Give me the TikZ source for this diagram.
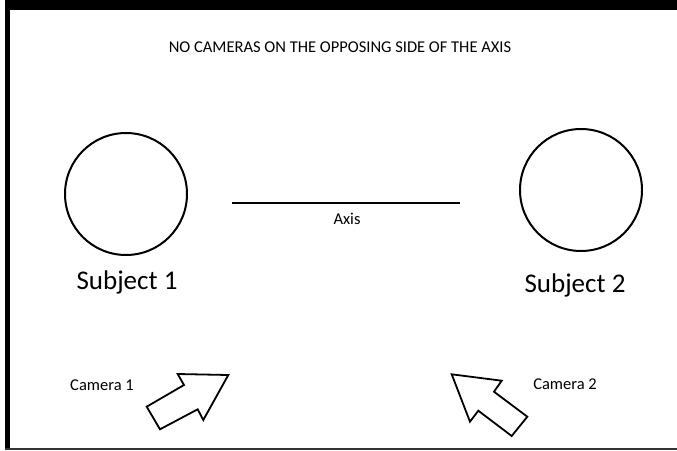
\documentclass[tikz,border=0pt]{standalone}
\usepackage{fontspec}
\setmainfont{Carlito}
\usepackage{tikz}

\begin{document}
\begin{tikzpicture}[x=1pt,y=-1pt,line join=miter,
  small/.style={font=\fontsize{16.5}{19}\selectfont},
  big/.style={font=\fontsize{27}{32}\selectfont},
  subject/.style={circle,draw,line width=2pt,minimum size=122pt,inner sep=0pt}]
\useasboundingbox (0,0) rectangle (677,450);
\fill[white] (0,0) rectangle (677,450);
% frame
\fill[black] (5,0) rectangle (677,10);
\fill[black] (5,0) rectangle (10,448);
\fill[black!80] (5,447.5) rectangle (677,450);
\node[small] (title) at (340,47) {NO CAMERAS ON THE OPPOSING SIDE OF THE AXIS};
% subjects and axis
\node[subject] (s1) at (126,194) {};
\node[subject] (s2) at (581,190) {};
\node[big] (s1label) at (127,282) {Subject 1};
\node[big] (s2label) at (575,285) {Subject 2};
\coordinate (axisL) at (232,203);
\coordinate (axisR) at (460,203);
\draw[line width=2pt] (axisL) -- (axisR);
\node[small] (axislabel) at (347,219) {Axis};
% cameras
\node[small] (cam1) at (102,385) {Camera 1};
\node[small] (cam2) at (565,384) {Camera 2};
\draw[line width=1.8pt] (228.3,375) -- (177.7,374) -- (184,385) -- (146.7,406.7) -- (160,429.3) -- (197.7,409.3) -- (203.3,420) -- cycle;
\draw[line width=1.8pt] (451.7,374.3) -- (501.7,380.7) -- (494,391.7) -- (527.3,416.7) -- (511.7,436) -- (478.3,410.7) -- (470,421.7) -- cycle;
\end{tikzpicture}
\end{document}
